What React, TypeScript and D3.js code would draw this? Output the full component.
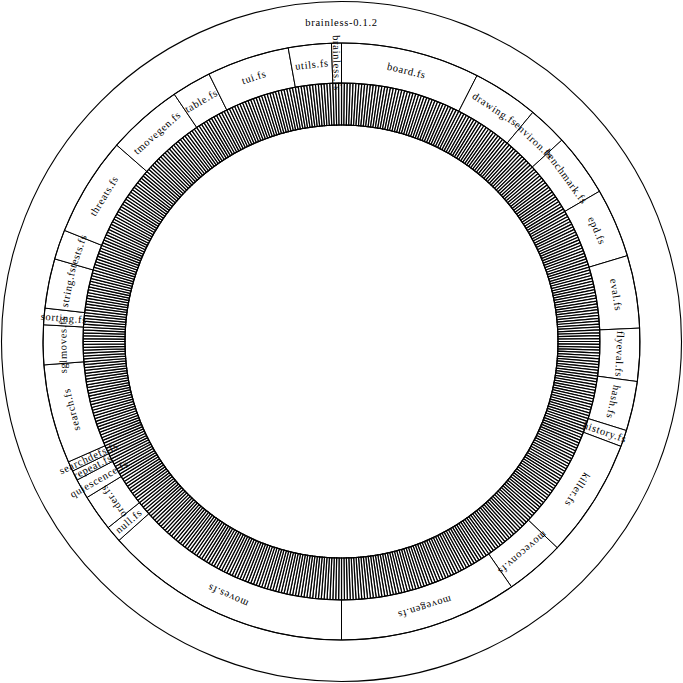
import * as d3 from 'd3'

// project name (root ring) and its source files, clockwise from the top
const projectName = 'brainless-0.1.2'
const fileNames = [
    'board.fs', 'drawing.fs', 'environ.fs', 'benchmark.fs', 'epd.fs', 'eval.fs',
    'flyeval.fs', 'hash.fs', 'history.fs', 'killer.fs', 'moveconv.fs', 'movegen.fs',
    'moves.fs', 'null.fs', 'order.fs', 'quiescence.fs', 'repeat.fs', 'searchdefs.fs',
    'search.fs', 'sglmoves.fs', 'sorting.fs', 'string.fs', 'tests.fs', 'threats.fs',
    'tmovegen.fs', 'table.fs', 'tui.fs', 'utils.fs', 'brainless.fs'
]
// number of definitions in each file (inner ring segments)
const defCounts = [
    42, 20, 12, 19, 21, 22,
    16, 15, 5, 36, 18, 54,
    75, 5, 11, 6, 3, 3,
    30, 12, 5, 15, 9, 30,
    23, 12, 25, 13, 3
]

const W = 683
const cx = 341.5
const cy = 341.5
// radii per depth: root outside, leaves inside
const ringR = [[298.5, 340], [258.5, 298.5], [216.5, 258.5]]

type Node = { name: string, children?: Node[] }

function buildTree(): Node {
    return {
        name: projectName,
        children: fileNames.map((f, i) => ({
            name: f,
            children: d3.range(defCounts[i]).map(j => ({ name: f + ':' + j }))
        }))
    }
}

export default function App() {
    const root = d3.hierarchy<Node>(buildTree()).sum(d => d.children ? 0 : 1)
    const part = d3.partition<Node>().size([2 * Math.PI, 3])(root)
    const nodes = part.descendants()

    const arc = d3.arc<any>()
        .startAngle(d => d.x0)
        .endAngle(d => d.x1)
        .innerRadius(d => ringR[d.depth][0])
        .outerRadius(d => ringR[d.depth][1])

    const deg = (a: number) => a * 180 / Math.PI

    function label(d: any) {
        const mid = (d.x0 + d.x1) / 2
        const r = (ringR[d.depth][0] + ringR[d.depth][1]) / 2
        const x = r * Math.sin(mid)
        const y = -r * Math.cos(mid)
        const span = deg(d.x1 - d.x0)
        let rot = deg(mid)
        if (span < 5) {
            // too narrow: write it along the radius
            rot = deg(mid) < 180 ? deg(mid) - 90 : deg(mid) + 90
        }
        return { x, y, rot }
    }

    return (
        <svg width={W} height={W} style={{ position: 'absolute', left: 0, top: 0, background: 'white' }}
            fontFamily="'Liberation Serif', serif">
            <g transform={`translate(${cx},${cy})`}>
                {nodes.filter(d => d.depth === 2).map((d, i) =>
                    <path key={'l' + i} d={arc(d) as string} fill="white" stroke="black" strokeWidth={1.2} />
                )}
                {nodes.filter(d => d.depth === 1).map((d, i) =>
                    <path key={'f' + i} d={arc(d) as string} fill="white" stroke="black" strokeWidth={1} />
                )}
                <circle r={ringR[0][1]} fill="none" stroke="black" strokeWidth={1.1} />
                <circle r={ringR[0][0]} fill="none" stroke="black" strokeWidth={1.1} />
                <circle r={ringR[2][0]} fill="none" stroke="black" strokeWidth={1.1} />
                <circle r={ringR[2][1]} fill="none" stroke="black" strokeWidth={1.1} />
                {nodes.filter(d => d.depth === 1).map((d, i) => {
                    const p = label(d)
                    return <text key={'t' + i} transform={`translate(${p.x},${p.y}) rotate(${p.rot})`}
                        textAnchor="middle" dominantBaseline="central" fontSize={10.5} letterSpacing={0.7}>{d.data.name}</text>
                })}
                <text x={0} y={-(ringR[0][0] + ringR[0][1]) / 2} textAnchor="middle" dominantBaseline="central"
                    fontSize={10.5} letterSpacing={0.7}>{projectName}</text>
            </g>
        </svg>
    )
}
